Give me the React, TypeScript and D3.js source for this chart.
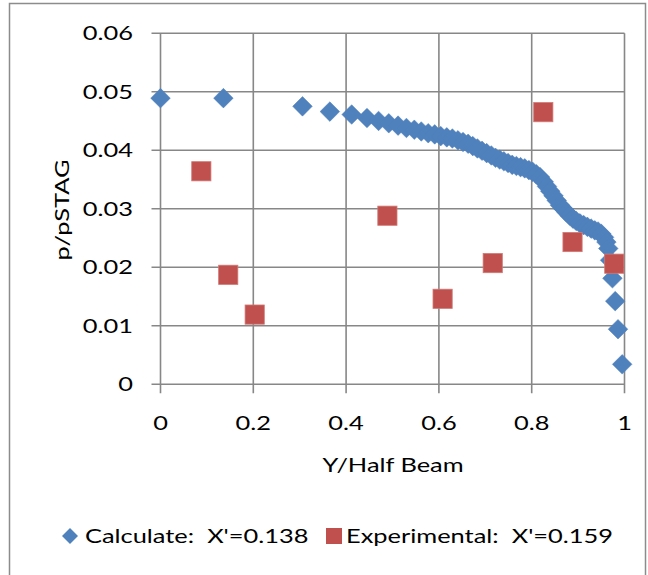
import React from "react";
import * as d3 from "d3";

// Calculated pressure ratio along the half beam
const calcY: number[] = [
  0, 0.1356, 0.306, 0.365, 0.412, 0.445, 0.47, 0.492, 0.512, 0.53, 0.547, 0.562,
  0.577, 0.591, 0.604, 0.617, 0.629, 0.641, 0.652, 0.663, 0.673, 0.683, 0.693,
  0.703, 0.713, 0.722, 0.731, 0.74, 0.749, 0.758, 0.767, 0.776, 0.785, 0.794,
  0.802, 0.81, 0.818, 0.826, 0.833, 0.84, 0.847, 0.854, 0.861, 0.868, 0.875,
  0.882, 0.889, 0.896, 0.904, 0.912, 0.92, 0.928, 0.936, 0.943, 0.95, 0.956,
  0.961, 0.965, 0.969, 0.974, 0.98, 0.986, 0.995,
];
const calcP: number[] = [
  0.0489, 0.0489, 0.0475, 0.0466, 0.0461, 0.0455, 0.045, 0.0446, 0.0442, 0.0438,
  0.0435, 0.0432, 0.0429, 0.0427, 0.0424, 0.0422, 0.042, 0.0417, 0.0414, 0.0411,
  0.0407, 0.0403, 0.0399, 0.0395, 0.0391, 0.0387, 0.0384, 0.0381, 0.0378,
  0.0375, 0.0373, 0.0371, 0.0369, 0.0366, 0.0363, 0.0359, 0.0354, 0.0346,
  0.0338, 0.033, 0.0322, 0.0314, 0.0306, 0.03, 0.0294, 0.0288, 0.0283, 0.0279,
  0.0275, 0.0272, 0.0269, 0.0266, 0.0263, 0.0261, 0.0257, 0.0251, 0.0243,
  0.0232, 0.0212, 0.0181, 0.0142, 0.0094, 0.0034,
];

// Experimental measurements
const expY: number[] = [0.088, 0.146, 0.203, 0.489, 0.608, 0.716, 0.825, 0.888, 0.978];
const expP: number[] = [0.0364, 0.0187, 0.0119, 0.0288, 0.0146, 0.0207, 0.0465, 0.0243, 0.0206];

const xTicks: number[] = [0, 0.2, 0.4, 0.6, 0.8, 1];
const yTicks: number[] = [0, 0.01, 0.02, 0.03, 0.04, 0.05, 0.06];
const xTickLabels: string[] = ["0", "0.2", "0.4", "0.6", "0.8", "1"];
const yTickLabels: string[] = ["0", "0.01", "0.02", "0.03", "0.04", "0.05", "0.06"];

const calcLabel = "Calculate:\u00a0 X'=0.138";
const expLabel = "Experimental:\u00a0 X'=0.159";
const xTitle = "Y/Half Beam";
const yTitle = "p/pSTAG";

const BLUE = "#4F81BD";
const RED = "#C0504D";
const GRID = "#878787";
const FONT = "Lato, 'Open Sans', sans-serif";
const STRETCH = 1.27;

type LabelProps = {
  x: number;
  y: number;
  anchor?: "start" | "middle" | "end";
  rotate?: number;
  children: React.ReactNode;
};

// Text with the slightly wide set used throughout the chart
function Label({ x, y, anchor = "start", rotate = 0, children }: LabelProps) {
  return (
    <text
      transform={`translate(${x},${y}) rotate(${rotate}) scale(${STRETCH},1)`}
      dy="0.35em"
      textAnchor={anchor}
      fontSize={20}
      fill="#000"
    >
      {children}
    </text>
  );
}

export default function App() {
  const x = d3.scaleLinear().domain([0, 1]).range([160.5, 624.5]);
  const y = d3.scaleLinear().domain([0, 0.06]).range([384.2, 33.2]);

  const diamond = (r: number) => `M0,${-r}L${r},0L0,${r}L${-r},0Z`;
  const calc = calcY.map((v, i) => ({ x: v, y: calcP[i] }));
  const exp = expY.map((v, i) => ({ x: v, y: expP[i] }));
  const [x0, x1] = x.range();
  const [y0, y1] = y.range();

  return (
    <svg
      width={648}
      height={575}
      style={{ position: "absolute", left: 0, top: 0, background: "#fff" }}
      fontFamily={FONT}
    >
      <rect x={9.5} y={3.5} width={636} height={620} fill="#fff" stroke="#8c8c8c" strokeWidth={1.5} />

      {/* grid + tick marks */}
      {yTicks.map((t) => (
        <line key={"gy" + t} x1={x0 - 9} x2={x1} y1={y(t)} y2={y(t)} stroke={GRID} strokeWidth={1.6} />
      ))}
      {xTicks.map((t) => (
        <line key={"gx" + t} x1={x(t)} x2={x(t)} y1={y1} y2={y0 + 9} stroke={GRID} strokeWidth={1.6} />
      ))}

      {/* tick labels */}
      {yTicks.map((t, i) => (
        <Label key={"ly" + t} x={133} y={y(t)} anchor="end">
          {yTickLabels[i]}
        </Label>
      ))}
      {xTicks.map((t, i) => (
        <Label key={"lx" + t} x={x(t)} y={y0 + 39} anchor="middle">
          {xTickLabels[i]}
        </Label>
      ))}

      {/* axis titles */}
      <Label x={393} y={465} anchor="middle">
        {xTitle}
      </Label>
      <Label x={62} y={210} anchor="middle" rotate={-90}>
        {yTitle}
      </Label>

      {/* calculated series */}
      {calc.map((d, i) => (
        <path key={"c" + i} d={diamond(9.8)} transform={`translate(${x(d.x)},${y(d.y)})`} fill={BLUE} stroke={BLUE} strokeWidth={0.5} />
      ))}
      {/* experimental series */}
      {exp.map((d, i) => (
        <rect key={"e" + i} x={x(d.x) - 9.6} y={y(d.y) - 9.6} width={19.2} height={19.2} fill={RED} stroke="#d07976" strokeWidth={0.8} />
      ))}

      {/* legend */}
      <path d={diamond(8)} transform="translate(70,536)" fill={BLUE} />
      <Label x={85} y={536}>
        {calcLabel}
      </Label>
      <rect x={326} y={528} width={16} height={16} fill={RED} />
      <Label x={346} y={536}>
        {expLabel}
      </Label>
    </svg>
  );
}
